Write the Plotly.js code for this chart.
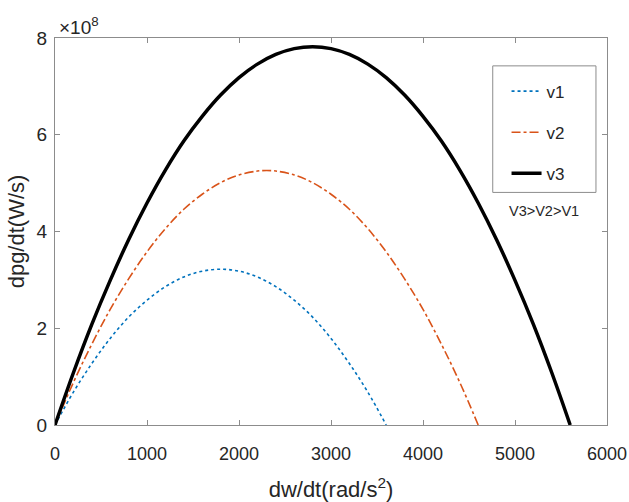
<!DOCTYPE html>
<html>
<head>
<meta charset="utf-8">
<script src="https://cdn.plot.ly/plotly-3.0.1.min.js"></script>
<style>html,body{margin:0;padding:0;background:#fff;}#chart{width:629px;height:502px;}</style>
</head>
<body>
<div id="chart"></div>
<script>
// x values: dw/dt (rad/s^2)
const x1 = [0,200,400,600,800,1000,1200,1400,1600,1800,2000,2200,2400,2600,2800,3000,3200,3400,3600];
const v1 = [0,0.68e8,1.27e8,1.79e8,2.23e8,2.58e8,2.86e8,3.06e8,3.18e8,3.22e8,3.18e8,3.06e8,2.86e8,2.58e8,2.23e8,1.79e8,1.27e8,0.68e8,0];

const x2 = [0,200,400,600,800,1000,1200,1400,1600,1800,2000,2200,2300,2400,2600,2800,3000,3200,3400,3600,3800,4000,4200,4400,4600];
const v2 = [0,0.88e8,1.67e8,2.39e8,3.02e8,3.58e8,4.06e8,4.46e8,4.77e8,5.01e8,5.17e8,5.25e8,5.26e8,5.25e8,5.17e8,5.01e8,4.77e8,4.46e8,4.06e8,3.58e8,3.02e8,2.39e8,1.67e8,0.88e8,0];

const x3 = [0,200,400,600,800,1000,1200,1400,1600,1800,2000,2200,2400,2600,2800,3000,3200,3400,3600,3800,4000,4200,4400,4600,4800,5000,5200,5400,5600];
const v3 = [0,1.08e8,2.08e8,2.99e8,3.83e8,4.59e8,5.27e8,5.87e8,6.38e8,6.82e8,7.18e8,7.46e8,7.66e8,7.78e8,7.82e8,7.78e8,7.66e8,7.46e8,7.18e8,6.82e8,6.38e8,5.87e8,5.27e8,4.59e8,3.83e8,2.99e8,2.08e8,1.08e8,0];

const seriesNames = ['v1','v2','v3'];
const xTicks = [0,1000,2000,3000,4000,5000,6000];
const yTickVals = [0,2e8,4e8,6e8,8e8];
const yTickText = ['0','2','4','6','8'];

const font = 'Liberation Sans, Arial, sans-serif';
const txt = '#262626';
const axc = '#8c8c8c';

const traces = [
  {x:x1, y:v1, name:seriesNames[0], mode:'lines', legendgroup:'a',
   line:{color:'#0072BD', width:1.6, dash:'dot', shape:'spline'}},
  {x:x2, y:v2, name:seriesNames[1], mode:'lines', legendgroup:'b',
   line:{color:'#D95319', width:1.6, dash:'dashdot', shape:'spline'}},
  {x:x3, y:v3, name:seriesNames[2], mode:'lines', legendgroup:'c',
   line:{color:'#000000', width:3.5, shape:'spline'}}
];

const layout = {
  width:629, height:502,
  margin:{l:55, r:22, t:38, b:77},
  paper_bgcolor:'#fff', plot_bgcolor:'#fff',
  font:{family:font, color:txt, size:18},
  showlegend:true,
  legend:{x:0.818, y:0.908, xanchor:'left', yanchor:'top',
    bgcolor:'rgba(0,0,0,0)', borderwidth:0,
    traceorder:'grouped', tracegroupgap:16,
    itemwidth:30,
    font:{family:font, size:17, color:txt}},
  xaxis:{range:[0,6000], tickvals:xTicks, ticks:'inside', ticklen:5, tickcolor:axc,
    showline:true, linecolor:axc, linewidth:1, mirror:'ticks', showgrid:false, zeroline:false,
    tickfont:{size:18, color:txt}, ticklabelstandoff:12,
    title:{text:'dw/dt(rad/s<sup>2</sup>)', font:{size:22, color:txt}, standoff:21}},
  yaxis:{range:[0,8e8], tickvals:yTickVals, ticktext:yTickText, ticks:'inside', ticklen:5, tickcolor:axc,
    showline:true, linecolor:axc, linewidth:1, mirror:'ticks', showgrid:false, zeroline:false,
    tickfont:{size:19, color:txt}, ticklabelstandoff:3,
    title:{text:'dpg/dt(W/s)', font:{size:22, color:txt}, standoff:5}},
  shapes:[
    {type:'rect', xref:'paper', yref:'paper', x0:0.793, x1:0.98, y0:0.601, y1:0.928,
     line:{color:axc, width:1}, fillcolor:'rgba(0,0,0,0)'}
  ],
  annotations:[
    {xref:'paper', yref:'paper', x:0.003, y:0.995, xanchor:'left', yanchor:'bottom', showarrow:false,
     text:'×10<sup>8</sup>', font:{size:19, color:txt}},
    {xref:'paper', yref:'paper', x:0.885, y:0.553, xanchor:'center', yanchor:'middle', showarrow:false,
     text:'V3>V2>V1', font:{size:14.5, color:txt}}
  ]
};

Plotly.newPlot('chart', traces, layout, {displayModeBar:false, staticPlot:true});
</script>
</body>
</html>
